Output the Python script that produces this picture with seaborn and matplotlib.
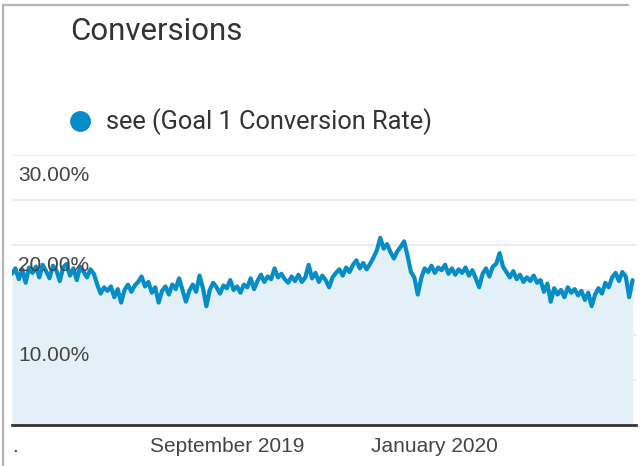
import matplotlib
matplotlib.use("Agg")
import matplotlib.pyplot as plt
from matplotlib.lines import Line2D
import matplotlib.transforms as mtransforms
import numpy as np
import pandas as pd
import seaborn as sns

# Goal 1 conversion rate (%), sampled every second day
start_date = "2019-04-28"
end_date = "2020-04-28"
rate = [
    16.8, 17.4, 16.2, 17.3, 15.8, 17.5, 16.9, 17.6, 16.4, 17.8,
    17.1, 16.3, 17.7, 17.2, 16.0, 17.5, 17.9, 16.6, 17.4, 16.1,
    17.6, 17.0, 16.4, 17.3, 16.8, 15.6,
    14.6, 15.3, 14.9, 15.4, 14.2, 15.1, 13.6, 15.0, 15.6, 14.8,
    15.5, 15.9, 16.5, 15.4, 15.9, 14.7, 15.3, 13.6, 14.9, 15.4,
    14.5, 15.6, 15.1, 16.3, 15.0, 13.7, 14.9,
    15.6, 14.8, 16.6, 15.2, 13.2, 15.0, 15.8, 15.3, 14.6, 15.5,
    15.2, 16.1, 15.0, 15.4, 14.7, 15.6, 15.3, 16.3, 15.1, 16.0,
    16.7, 15.9, 16.5, 16.2, 17.4, 16.4, 16.8,
    16.2, 15.8, 16.5, 16.0, 16.7, 15.9, 16.4, 17.8, 16.3, 16.9,
    15.9, 16.6, 16.1, 15.3, 16.4, 16.9, 17.3, 16.6, 17.5, 17.0,
    17.8, 18.3, 17.4, 18.0, 17.3, 17.9,
    18.6, 19.4, 20.8, 19.6, 20.1, 19.2, 18.5, 19.3, 19.8, 20.4,
    18.8, 17.0, 16.4, 14.5, 16.3, 17.4, 17.0, 17.7, 16.9, 17.5,
    17.2, 17.8, 16.8, 17.4, 16.7, 17.3,
    16.9, 17.5, 16.6, 17.2, 16.3, 15.3, 16.8, 17.4, 16.5, 17.6,
    17.9, 19.1, 17.6, 17.0, 16.4, 17.1, 16.2, 16.7, 15.9, 16.4,
    16.0, 16.6, 15.8, 16.1, 14.8, 15.7, 13.7,
    15.2, 14.5, 15.0, 14.2, 15.3, 14.7, 15.1, 14.4, 14.9, 13.9,
    14.7, 13.2, 14.5, 15.2, 14.6, 15.8, 15.3, 16.4, 16.9, 16.0,
    17.0, 16.5, 14.2, 16.1,
]
y_ticks = [10, 20, 30]
y_tick_labels = ["10.00%", "20.00%", "30.00%"]
x_tick_dates = ["2019-04-30", "2019-09-01", "2020-01-01"]
x_tick_labels = [".", "September 2019", "January 2020"]
title = "Conversions"
series_label = "see (Goal 1 Conversion Rate)"

BLUE = "#058dc7"
FILL = "#e4f0f7"
GRID = "#e8e8e8"
TEXT = "#444444"

df = pd.DataFrame({
    "date": pd.date_range(start_date, periods=len(rate), freq="2D"),
    "rate": rate,
})

sns.set_theme(style="white")
plt.rcParams["font.family"] = ["Liberation Sans", "DejaVu Sans"]

W, H = 642, 466
fig = plt.figure(figsize=(W / 100, H / 100), dpi=100)
ax = fig.add_axes([12 / W, 41 / H, 624 / W, 270 / H])

ax.fill_between(df["date"], df["rate"], 0, color=FILL, linewidth=0, zorder=1)
sns.lineplot(data=df, x="date", y="rate", ax=ax, color=BLUE,
             linewidth=3.0, zorder=3, legend=False)

ax.set_xlim(pd.Timestamp(start_date), pd.Timestamp(end_date))
ax.set_ylim(0, 30)

# horizontal grid every 5 percentage points
ax.set_yticks(np.arange(5, 31, 5))
ax.yaxis.grid(True, color=GRID, linewidth=1.2, zorder=0)
ax.tick_params(axis="y", left=False, labelleft=False)
ax.set_ylabel("")
ax.set_xlabel("")

# value labels sit just under their gridline, inside the plot
trans = mtransforms.blended_transform_factory(ax.transAxes, ax.transData)
below = mtransforms.ScaledTranslation(0, -11 / 100, fig.dpi_scale_trans)
for v, lab in zip(y_ticks, y_tick_labels):
    ax.text(6 / 624, v, lab, transform=trans + below, ha="left", va="top",
            fontsize=15, color=TEXT, zorder=4)

ax.set_xticks(pd.to_datetime(x_tick_dates))
ax.set_xticklabels(x_tick_labels, fontsize=15, color=TEXT)
ax.tick_params(axis="x", bottom=False, pad=3)

for s in ["top", "right", "left"]:
    ax.spines[s].set_visible(False)
ax.spines["bottom"].set_color("#333333")
ax.spines["bottom"].set_linewidth(2)
ax.spines["bottom"].set_zorder(5)

# card frame
fig.add_artist(Line2D([3 / W, 628 / W], [1 - 5 / H, 1 - 5 / H], color="#b5b5b5",
                      linewidth=1.6, transform=fig.transFigure))
fig.add_artist(Line2D([3 / W, 3 / W], [1 - 5 / H, 0], color="#b5b5b5",
                      linewidth=1.6, transform=fig.transFigure))

fig.text(70 / W, 1 - 31 / H, title, ha="left", va="center", fontsize=22.5,
         color="#333333", family=["Roboto", "DejaVu Sans"])

handle = Line2D([], [], marker="o", linestyle="", color=BLUE, markersize=14)
fig.legend(handles=[handle], labels=[series_label], loc="center left",
           bbox_to_anchor=(67 / W, 1 - 122 / H), frameon=False,
           handletextpad=0.55, borderpad=0, borderaxespad=0, handlelength=1.0,
           prop={"family": ["Roboto", "DejaVu Sans"], "size": 18.3},
           labelcolor="#333333")

fig.savefig("out.png", dpi=100)
